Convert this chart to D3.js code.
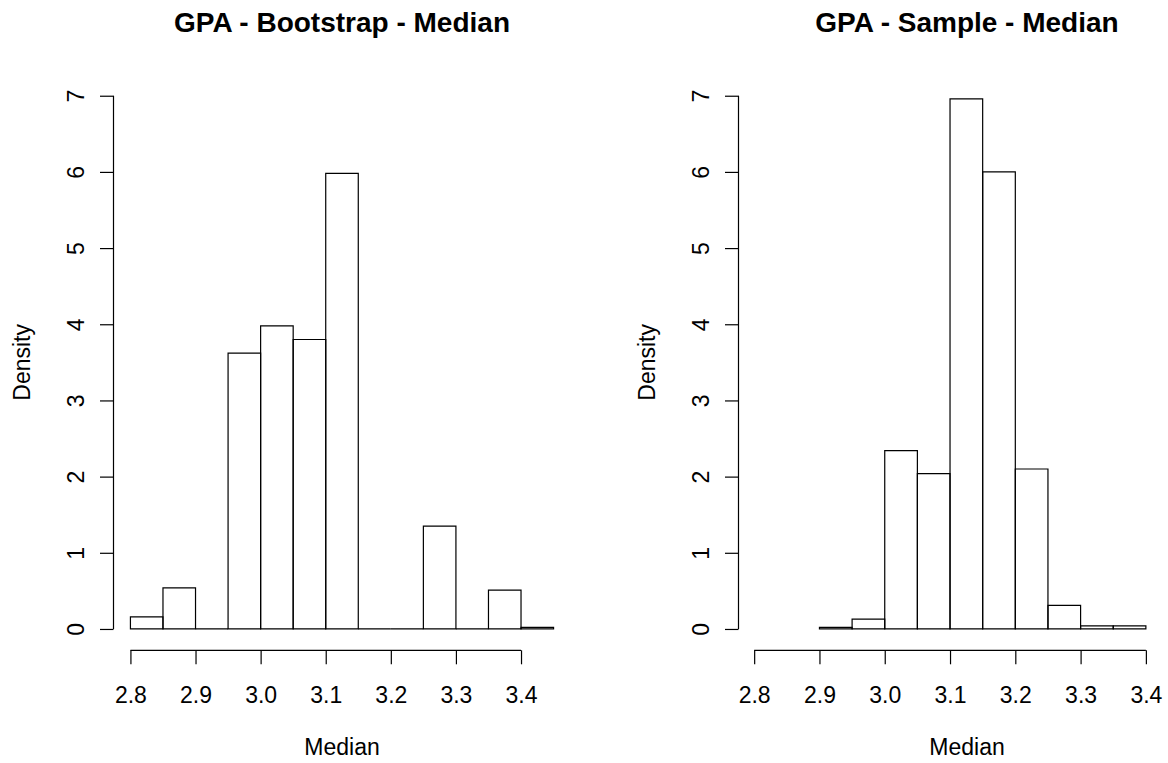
<!DOCTYPE html>
<html>
<head>
<meta charset="utf-8">
<script src="https://cdn.jsdelivr.net/npm/d3@7"></script>
<style>
  body { margin: 0; background: #fff; }
  svg { display: block; font-family: "Liberation Sans", Arial, sans-serif; }
</style>
</head>
<body>
<div id="chart"></div>
<script>
// histogram data
var bootBreaks = [2.80, 2.85, 2.90, 2.95, 3.00, 3.05, 3.10, 3.15, 3.20, 3.25, 3.30, 3.35, 3.40, 3.45];
var bootDensity = [0.16, 0.54, 0, 3.62, 3.98, 3.80, 5.98, 0, 0, 1.35, 0, 0.51, 0.02];

var sampleBreaks = [2.90, 2.95, 3.00, 3.05, 3.10, 3.15, 3.20, 3.25, 3.30, 3.35, 3.40];
var sampleDensity = [0.02, 0.13, 2.34, 2.04, 6.96, 6.00, 2.10, 0.31, 0.04, 0.04];

var xTicks = [2.8, 2.9, 3.0, 3.1, 3.2, 3.3, 3.4];
var yTicks = [0, 1, 2, 3, 4, 5, 6, 7];

var svgWidth = 1168;
var svgHeight = 763;

var svg = d3.select("#chart")
  .append("svg")
  .attr("width", svgWidth)
  .attr("height", svgHeight);

// panel layout (plot regions, like R's par(mfrow=c(1,2)))
var panels = [
  { title: "GPA - Bootstrap - Median", breaks: bootBreaks, dens: bootDensity,
    left: 113.5, right: 570.5, xdom: [2.774, 3.476] },
  { title: "GPA - Sample - Median", breaks: sampleBreaks, dens: sampleDensity,
    left: 738.5, right: 1195.5, xdom: [2.776, 3.476] }
];

var plotTop = 74.4;
var plotBottom = 650.3;

var yScale = d3.scaleLinear()
  .domain([-0.28, 7.28])
  .range([plotBottom, plotTop]);

panels.forEach(function(p) {
  var xScale = d3.scaleLinear()
    .domain(p.xdom)
    .range([p.left, p.right]);

  var g = svg.append("g");

  // bars - drawn as paths so empty bins still show a line on the baseline
  var bins = p.dens.map(function(d, i) {
    return { x0: p.breaks[i], x1: p.breaks[i + 1], d: d };
  });

  g.selectAll("path.bar")
    .data(bins)
    .enter()
    .append("path")
    .attr("class", "bar")
    .attr("d", function(d) {
      var a = xScale(d.x0), b = xScale(d.x1);
      var y0 = yScale(0), y1 = yScale(d.d);
      return `M${a},${y0}V${y1}H${b}V${y0}Z`;
    })
    .attr("fill", "none")
    .attr("stroke", "#000")
    .attr("stroke-width", 1.2);

  // x axis
  var bottomAxis = d3.axisBottom(xScale)
    .tickValues(xTicks)
    .tickSize(14)
    .tickSizeOuter(0)
    .tickFormat(d3.format(".1f"));

  var xg = g.append("g")
    .attr("transform", `translate(0, ${plotBottom})`)
    .call(bottomAxis);
  xg.select(".domain").remove();
  xg.append("line")
    .attr("x1", xScale(xTicks[0]))
    .attr("x2", xScale(xTicks[xTicks.length - 1]))
    .attr("stroke", "#000")
    .attr("stroke-width", 1.2);
  xg.selectAll(".tick line").attr("stroke-width", 1.2);
  xg.selectAll("text")
    .attr("y", 53)
    .attr("dy", null)
    .attr("font-size", "23px")
    .attr("font-family", "Liberation Sans, Arial, sans-serif")
    .attr("fill", "#000");

  // y axis
  var leftAxis = d3.axisLeft(yScale)
    .tickValues(yTicks)
    .tickSize(13.5)
    .tickSizeOuter(0)
    .tickFormat(d3.format("d"));

  var yg = g.append("g")
    .attr("transform", `translate(${p.left}, 0)`)
    .call(leftAxis);
  yg.select(".domain").remove();
  yg.append("line")
    .attr("y1", yScale(yTicks[0]))
    .attr("y2", yScale(yTicks[yTicks.length - 1]))
    .attr("stroke", "#000")
    .attr("stroke-width", 1.2);
  yg.selectAll(".tick line").attr("stroke-width", 1.2);
  yg.selectAll("text")
    .attr("x", null)
    .attr("dy", null)
    .attr("transform", "translate(-30, 0) rotate(-90)")
    .attr("text-anchor", "middle")
    .attr("font-size", "23px")
    .attr("font-family", "Liberation Sans, Arial, sans-serif")
    .attr("fill", "#000");

  // labels
  var cx = (p.left + p.right) / 2;
  var cy = (plotTop + plotBottom) / 2;

  g.append("text")
    .attr("x", cx)
    .attr("y", 31.7)
    .attr("text-anchor", "middle")
    .attr("font-size", "28px")
    .attr("font-weight", "bold")
    .text(p.title);

  g.append("text")
    .attr("x", cx)
    .attr("y", 755)
    .attr("text-anchor", "middle")
    .attr("font-size", "23px")
    .text("Median");

  g.append("text")
    .attr("transform", `translate(${p.left - 83.5}, ${cy}) rotate(-90)`)
    .attr("text-anchor", "middle")
    .attr("font-size", "23px")
    .text("Density");
});
</script>
</body>
</html>
